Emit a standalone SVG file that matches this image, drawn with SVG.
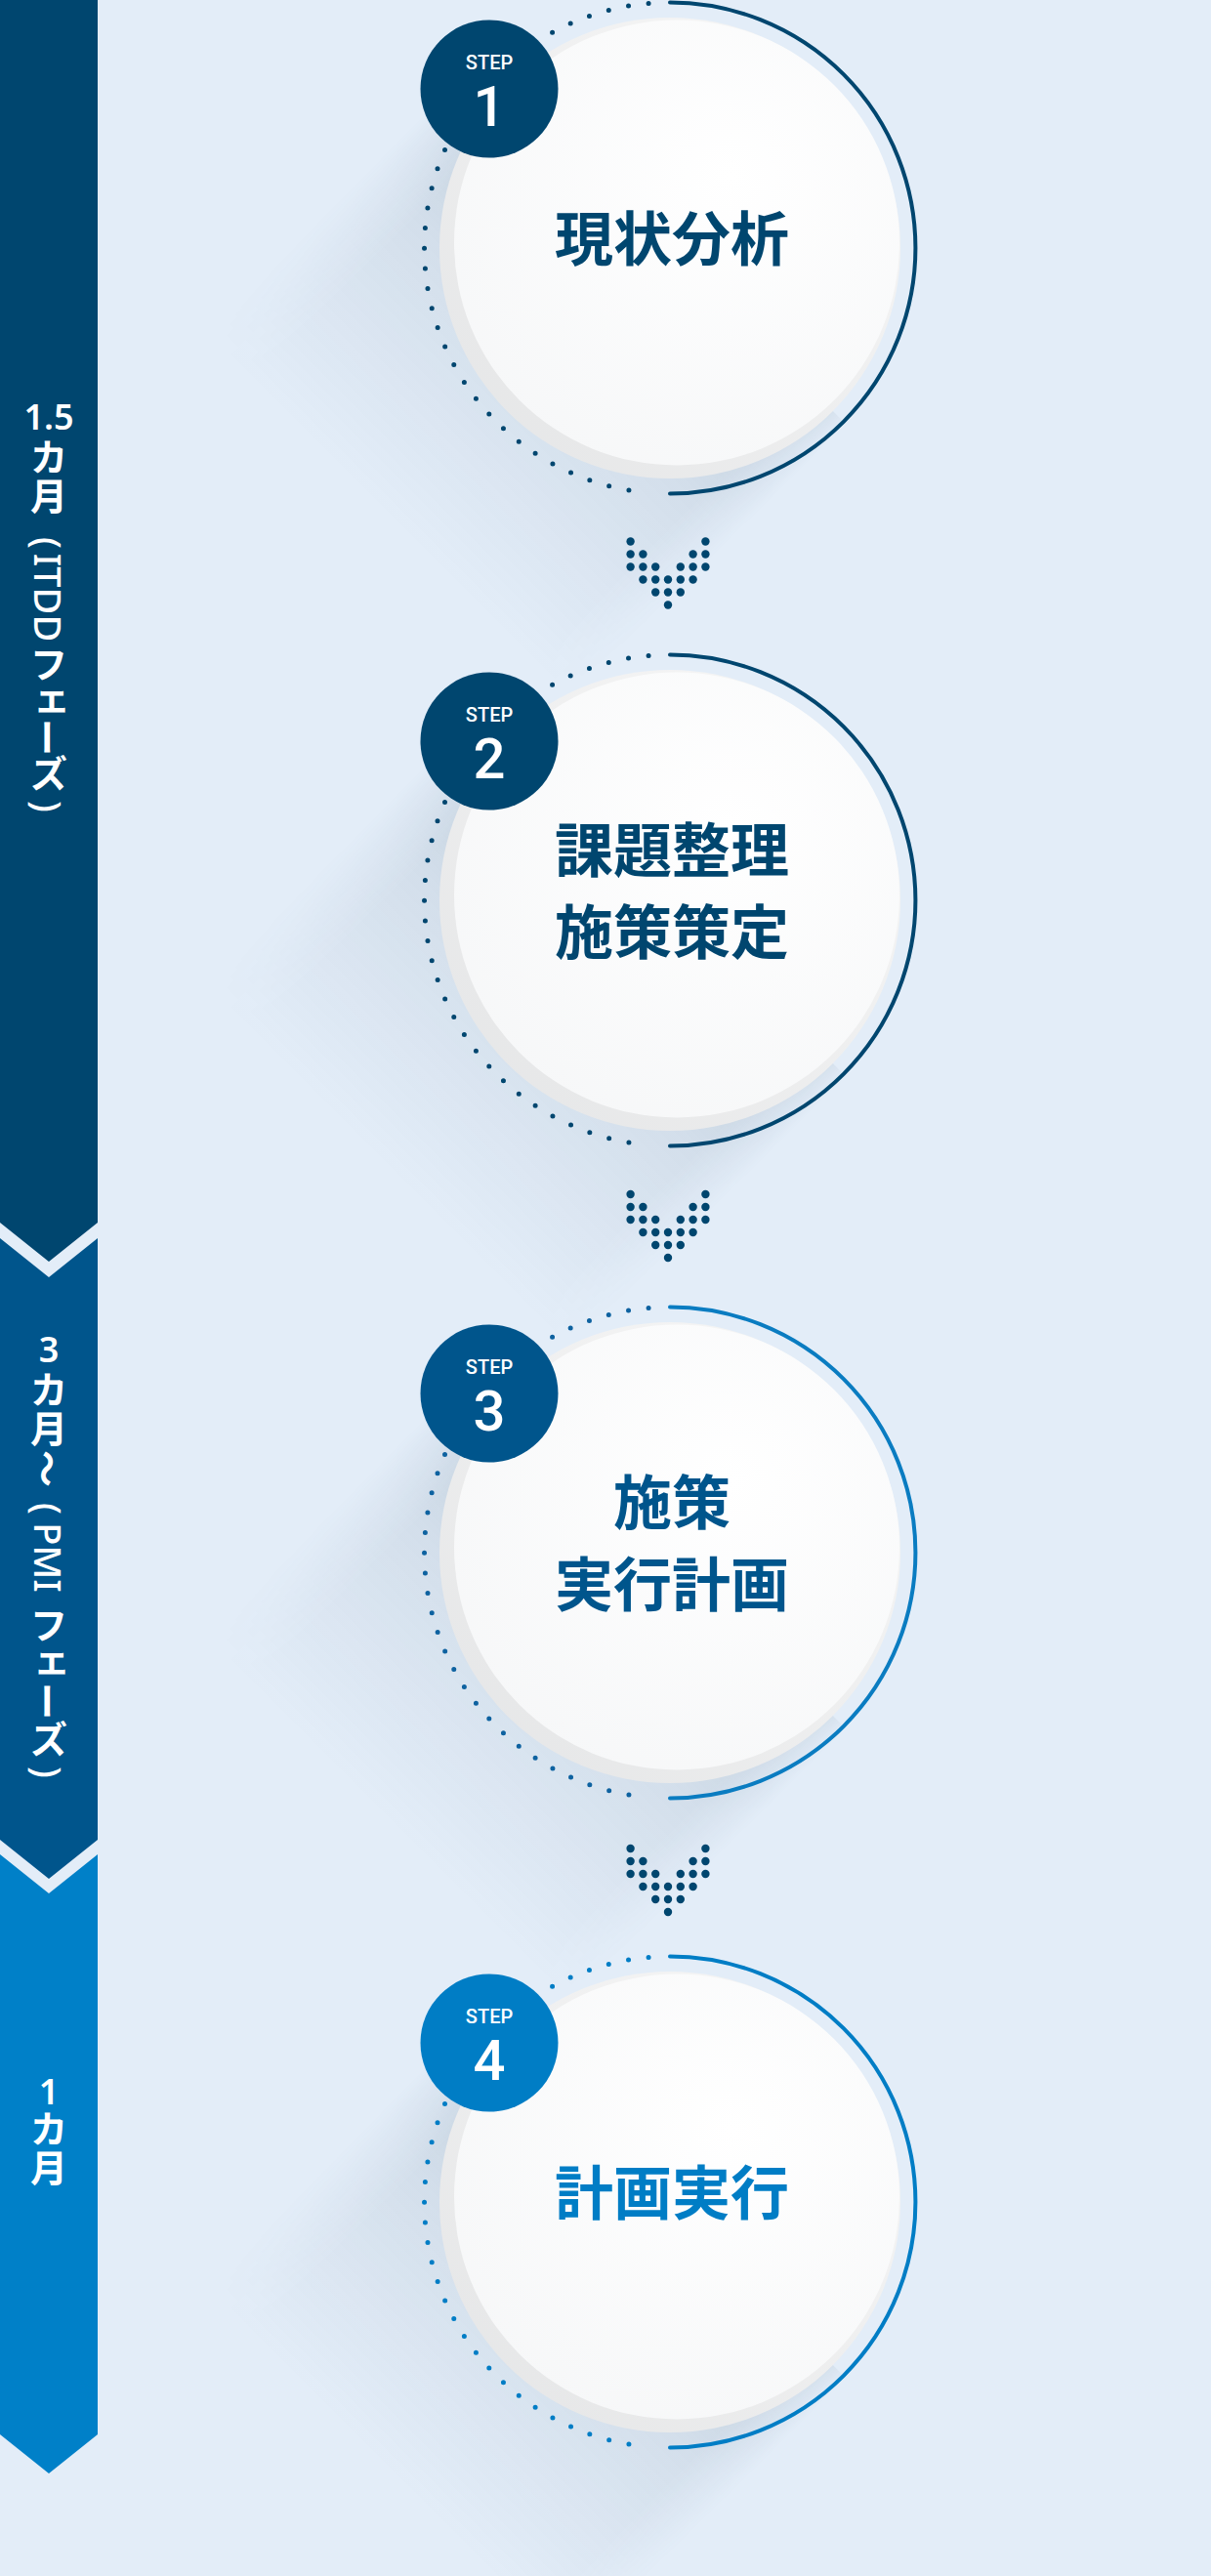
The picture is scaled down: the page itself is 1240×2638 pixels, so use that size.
<svg xmlns="http://www.w3.org/2000/svg" xmlns:xlink="http://www.w3.org/1999/xlink" width="1240" height="2638" viewBox="0 0 1240 2638">
<defs>
<style>
.bt { fill:#fff; font-family:"Noto Sans CJK JP","Noto Sans",sans-serif; font-weight:700; font-size:38px; text-anchor:middle; }
.br { fill:#fff; font-family:"Noto Sans","Noto Sans CJK JP",sans-serif; font-weight:500; font-size:38px; text-anchor:middle; dominant-baseline:central; }
.brc { fill:#fff; font-family:"Noto Sans CJK JP",sans-serif; font-weight:700; font-size:38px; text-anchor:middle; dominant-baseline:central; }
.bn { fill:#fff; font-family:"Noto Sans",Roboto,sans-serif; font-weight:600; font-size:36px; text-anchor:middle; }
.main { font-family:"Noto Sans CJK JP",sans-serif; font-weight:700; font-size:60px; text-anchor:middle; }
.step { fill:#fff; font-family:Roboto,"Noto Sans",sans-serif; font-weight:500; font-size:20px; text-anchor:middle; }
.num { fill:#fff; font-family:Roboto,"Noto Sans",sans-serif; font-weight:500; font-size:58px; text-anchor:middle; }
.dots { fill:none; stroke-width:5; stroke-linecap:round; stroke-dasharray:0 20.73; }
.ring { fill:none; stroke-width:4; stroke-linecap:round; }
.ad { fill:#00466f; }
.shadow { fill:url(#shL); mask:url(#shM); }
</style>
<linearGradient id="shL" x1="0" y1="0" x2="0" y2="1">
<stop offset="0" stop-color="#34506b" stop-opacity="0.2"/>
<stop offset="0.4" stop-color="#34506b" stop-opacity="0.09"/>
<stop offset="1" stop-color="#34506b" stop-opacity="0"/>
</linearGradient>
<linearGradient id="shW" x1="0" y1="0" x2="1" y2="0">
<stop offset="0" stop-color="#000"/>
<stop offset="0.13" stop-color="#fff"/>
<stop offset="0.9" stop-color="#fff"/>
<stop offset="1" stop-color="#000"/>
</linearGradient>
<mask id="shM" maskUnits="userSpaceOnUse" x="-320" y="-20" width="640" height="460">
<rect x="-275" y="0" width="530" height="400" fill="url(#shW)"/>
</mask>
<linearGradient id="rim" x1="1" y1="0" x2="0" y2="1">
<stop offset="0" stop-color="#f8f8f8"/>
<stop offset="1" stop-color="#e4e5e6"/>
</linearGradient>
<radialGradient id="face" cx="0.62" cy="0.35" r="0.75">
<stop offset="0" stop-color="#ffffff"/>
<stop offset="1" stop-color="#f6f7f8"/>
</radialGradient>
<g id="arrow">
<circle class="ad" cx="-38.4" cy="0" r="4.2"/><circle class="ad" cx="38.4" cy="0" r="4.2"/>
<circle class="ad" cx="-38.4" cy="13" r="4.2"/><circle class="ad" cx="-25.6" cy="13" r="4.2"/><circle class="ad" cx="25.6" cy="13" r="4.2"/><circle class="ad" cx="38.4" cy="13" r="4.2"/>
<circle class="ad" cx="-38.4" cy="26" r="4.2"/><circle class="ad" cx="-25.6" cy="26" r="4.2"/><circle class="ad" cx="-12.8" cy="26" r="4.2"/><circle class="ad" cx="12.8" cy="26" r="4.2"/><circle class="ad" cx="25.6" cy="26" r="4.2"/><circle class="ad" cx="38.4" cy="26" r="4.2"/>
<circle class="ad" cx="-25.6" cy="39" r="4.2"/><circle class="ad" cx="-12.8" cy="39" r="4.2"/><circle class="ad" cx="0" cy="39" r="4.2"/><circle class="ad" cx="12.8" cy="39" r="4.2"/><circle class="ad" cx="25.6" cy="39" r="4.2"/>
<circle class="ad" cx="-12.8" cy="52" r="4.2"/><circle class="ad" cx="0" cy="52" r="4.2"/><circle class="ad" cx="12.8" cy="52" r="4.2"/>
<circle class="ad" cx="0" cy="65" r="4.2"/>
</g>
<g id="longshadow">
<rect class="shadow" x="-275" y="0" width="530" height="400" transform="rotate(45)"/>
</g>
</defs>
<rect x="0" y="0" width="1240" height="2638" fill="#e3edf8"/>

<g id="phase-bar">
<path d="M0,0 H100 V1252 L50,1292 L0,1252 Z" fill="#00466f"/>
<path d="M0,1268 L50,1308 L100,1268 V1884 L50,1924 L0,1884 Z" fill="#00558c"/>
<path d="M0,1899 L50,1939 L100,1899 V2493 L50,2533 L0,2493 Z" fill="#0080c8"/>
<g id="phase1-label">
<text class="bn" x="50" y="440">1.5</text>
<text class="bt" x="50" y="482">カ</text>
<text class="bt" x="50" y="522">月</text>
<text class="br" transform="translate(50,556) rotate(90)">(</text>
<text class="br" transform="translate(50,612) rotate(90)">ITDD</text>
<text class="bt" x="50" y="694">フ</text>
<text class="bt" x="53" y="728">ェ</text>
<text class="brc" transform="translate(50,755) rotate(90)">ー</text>
<text class="bt" x="50" y="806">ズ</text>
<text class="br" transform="translate(50,826) rotate(90)">)</text>
</g>
<g id="phase2-label">
<text class="bn" x="50" y="1395">3</text>
<text class="bt" x="50" y="1437">カ</text>
<text class="bt" x="50" y="1477">月</text>
<text class="brc" transform="translate(50,1504) rotate(90)">〜</text>
<text class="br" transform="translate(50,1545) rotate(90)">(</text>
<text class="br" transform="translate(50,1595) rotate(90)">PMI</text>
<text class="bt" x="50" y="1678">フ</text>
<text class="bt" x="53" y="1713">ェ</text>
<text class="brc" transform="translate(50,1742) rotate(90)">ー</text>
<text class="bt" x="50" y="1795">ズ</text>
<text class="br" transform="translate(50,1815) rotate(90)">)</text>
</g>
<g id="phase3-label">
<text class="bn" x="50" y="2155">1</text>
<text class="bt" x="50" y="2194">カ</text>
<text class="bt" x="50" y="2234">月</text>
</g>
</g>

<g id="step1" transform="translate(686,254)">
<use xlink:href="#longshadow" href="#longshadow"/>
<path class="dots" stroke="#00466f" d="M-21.92,-250.54 A251.5,251.5 0 0 0 -21.92,250.54"/>
<path class="ring" stroke="#00466f" d="M0,-251.5 A251.5,251.5 0 0 1 0,251.5"/>
<circle r="236" fill="url(#rim)"/>
<circle cx="7" cy="-5.5" r="228" fill="url(#face)"/>
<text class="main" fill="#00466f" x="2" y="13">現状分析</text>
<circle cx="-185" cy="-163" r="70.5" fill="#00466f"/>
<text class="step" x="-185" y="-183">STEP</text>
<text class="num" x="-185" y="-125">1</text>
</g>

<g id="step2" transform="translate(686,922)">
<use xlink:href="#longshadow" href="#longshadow"/>
<path class="dots" stroke="#00466f" d="M-21.92,-250.54 A251.5,251.5 0 0 0 -21.92,250.54"/>
<path class="ring" stroke="#00466f" d="M0,-251.5 A251.5,251.5 0 0 1 0,251.5"/>
<circle r="236" fill="url(#rim)"/>
<circle cx="7" cy="-5.5" r="228" fill="url(#face)"/>
<text class="main" fill="#00466f" x="2" y="-29.5">課題整理</text>
<text class="main" fill="#00466f" x="2" y="54.5">施策策定</text>
<circle cx="-185" cy="-163" r="70.5" fill="#00466f"/>
<text class="step" x="-185" y="-183">STEP</text>
<text class="num" x="-185" y="-125">2</text>
</g>

<g id="step3" transform="translate(686,1590)">
<use xlink:href="#longshadow" href="#longshadow"/>
<path class="dots" stroke="#0e62a0" d="M-21.92,-250.54 A251.5,251.5 0 0 0 -21.92,250.54"/>
<path class="ring" stroke="#0a7cc1" d="M0,-251.5 A251.5,251.5 0 0 1 0,251.5"/>
<circle r="236" fill="url(#rim)"/>
<circle cx="7" cy="-5.5" r="228" fill="url(#face)"/>
<text class="main" fill="#00558c" x="2" y="-29.5">施策</text>
<text class="main" fill="#00558c" x="2" y="54.5">実行計画</text>
<circle cx="-185" cy="-163" r="70.5" fill="#00558c"/>
<text class="step" x="-185" y="-183">STEP</text>
<text class="num" x="-185" y="-125">3</text>
</g>

<g id="step4" transform="translate(686,2255)">
<use xlink:href="#longshadow" href="#longshadow"/>
<path class="dots" stroke="#007dc5" d="M-21.92,-250.54 A251.5,251.5 0 0 0 -21.92,250.54"/>
<path class="ring" stroke="#007dc5" d="M0,-251.5 A251.5,251.5 0 0 1 0,251.5"/>
<circle r="236" fill="url(#rim)"/>
<circle cx="7" cy="-5.5" r="228" fill="url(#face)"/>
<text class="main" fill="#007dc5" x="2" y="12.5">計画実行</text>
<circle cx="-185" cy="-163" r="70.5" fill="#007dc5"/>
<text class="step" x="-185" y="-183">STEP</text>
<text class="num" x="-185" y="-125">4</text>
</g>

<g id="connectors">
<use xlink:href="#arrow" href="#arrow" x="684" y="554.5"/>
<use xlink:href="#arrow" href="#arrow" x="684" y="1223"/>
<use xlink:href="#arrow" href="#arrow" x="684" y="1893"/>
</g>
</svg>
